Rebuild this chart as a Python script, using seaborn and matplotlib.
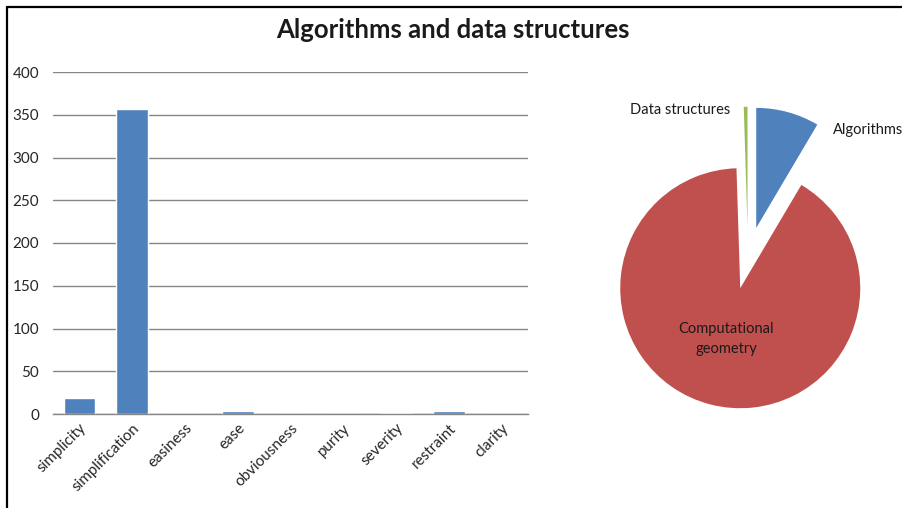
import matplotlib
matplotlib.use("Agg")
import matplotlib.pyplot as plt
from matplotlib.lines import Line2D
import seaborn as sns
import pandas as pd

# Bar chart data
words = ["simplicity", "simplification", "easiness", "ease", "obviousness",
         "purity", "severity", "restraint", "clarity"]
counts = [19, 357, 0, 3, 0, 0, 1, 3, 0]
yticks = [0, 50, 100, 150, 200, 250, 300, 350, 400]

# Pie chart data (share in percent)
topics = ["Algorithms", "Computational geometry", "Data structures"]
shares = [8.5, 91.0, 0.5]
topic_labels = ["Algorithms", "Computational\ngeometry", "Data structures"]

title = "Algorithms and data structures"

BLUE = "#4F81BD"
RED = "#C0504D"
GREEN = "#9BBB59"
GRID = "#868686"

sns.set_style("white")
plt.rcParams["font.family"] = ["Lato", "DejaVu Sans"]
plt.rcParams["text.color"] = "#1a1a1a"

W, H = 903, 508
fig = plt.figure(figsize=(W / 100, H / 100), dpi=100)

# ---- bar chart ----
ax = fig.add_axes([53 / W, 1 - 414 / H, (528 - 53) / W, (414 - 72) / H])
df = pd.DataFrame({"word": words, "count": counts})
sns.barplot(data=df, x="word", y="count", color=BLUE, saturation=1,
            width=0.6, ax=ax)
ax.set_ylim(0, 400)
ax.set_yticks(yticks)
ax.set_xlabel("")
ax.set_ylabel("")
ax.set_xlim(-0.5, len(words) - 0.5)
for s in ["top", "right", "left"]:
    ax.spines[s].set_visible(False)
ax.spines["bottom"].set_color(GRID)
ax.spines["bottom"].set_linewidth(1)
ax.yaxis.grid(True, color=GRID, linewidth=1)
ax.set_axisbelow(True)
ax.tick_params(axis="y", length=0, pad=10, labelsize=11)
ax.tick_params(axis="x", length=0, pad=5, labelsize=11)
for lbl in ax.get_xticklabels():
    lbl.set_rotation(45)
    lbl.set_ha("right")
    lbl.set_rotation_mode("anchor")

# ---- pie chart ----
R = 120  # radius in pixels
cx, cy = 748, 258
side = 300
pax = fig.add_axes([(cx - side / 2) / W, 1 - (cy + side / 2) / H, side / W, side / H])
wedges, texts = pax.pie(shares, labels=topic_labels, colors=[BLUE, RED, GREEN],
                        startangle=90, counterclock=False,
                        explode=[0.26, 0.26, 0.26],
                        wedgeprops=dict(linewidth=0),
                        textprops=dict(fontsize=10.5))
half = side / 2 / R
pax.set_xlim(-half, half)
pax.set_ylim(-half, half)
pax.set_aspect("equal")
pax.axis("off")
label_pos = {
    "Algorithms": ((833 - cx) / R, (cy - 130) / R, "left", "center"),
    "Computational\ngeometry": ((726 - cx) / R, (cy - 339) / R, "center", "center"),
    "Data structures": ((730 - cx) / R, (cy - 110) / R, "right", "center"),
}
for t in texts:
    x, y, ha, va = label_pos[t.get_text()]
    t.set_position((x, y))
    t.set_ha(ha)
    t.set_va(va)
    t.set_clip_on(False)
texts[1].set_multialignment("center")
texts[1].set_linespacing(1.55)

# ---- title and frame ----
fig.text(453 / W, 1 - 30 / H, title, ha="center", va="center",
         fontsize=18.5, fontweight="bold")
fig.add_artist(Line2D([7 / W, 7 / W], [0, 1 - 7 / H], color="black",
                      linewidth=1.6, transform=fig.transFigure))
fig.add_artist(Line2D([7 / W, 1], [1 - 7 / H, 1 - 7 / H], color="black",
                      linewidth=1.6, transform=fig.transFigure))

fig.savefig("out.png", dpi=100, facecolor="white")
